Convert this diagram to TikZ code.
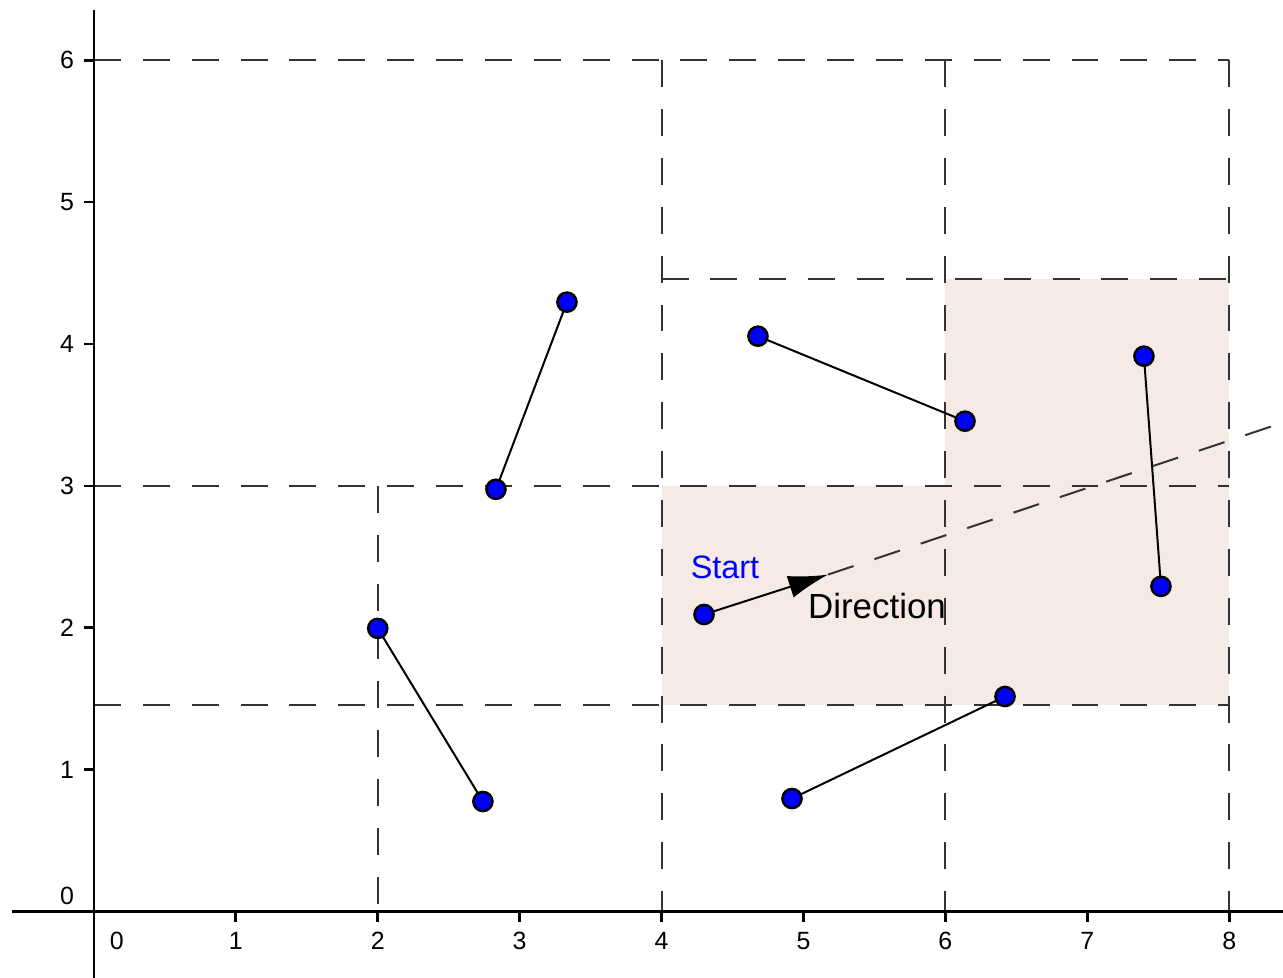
\documentclass[tikz,border=0pt]{standalone}
\usepackage{fontspec}
\setmainfont{Liberation Sans}
\usetikzlibrary{arrows.meta}
\definecolor{cellc}{HTML}{F5EAE6}
\definecolor{ptc}{HTML}{0000FF}
\tikzset{
  axis/.style={draw=black, line width=0.55pt},
  grid/.style={draw=black!80, line width=0.4pt, dash pattern=on 5.4pt off 4.4pt},
  cell/.style={fill=cellc},
  seg/.style={draw=black, line width=0.4pt},
  pt/.style={circle, fill=ptc, draw=black, line width=0.5pt, inner sep=0pt, minimum size=1.35mm},
  tick/.style={font=\fontsize{5}{6}\selectfont},
}

\begin{document}
\begin{tikzpicture}
\useasboundingbox (-0.662,-0.465) rectangle (8.379,6.424);
\fill[cell] (4,1.453) rectangle (6,3);
\fill[cell] (6,1.453) rectangle (8,4.457);
% cells
\draw[grid] (0,6) -- (8,6);
\draw[grid] (0,3) -- (8,3);
\draw[grid] (0,1.453) -- (8,1.453);
\draw[grid] (4,4.457) -- (8,4.457);
\draw[grid] (4,6) -- (4,0);
\draw[grid] (6,6) -- (6,0);
\draw[grid] (8,6) -- (8,0);
\draw[grid] (2,3) -- (2,0);
% axes
\draw[axis] (-0.578,0) -- (8.379,0);
\draw[axis] (0,-0.465) -- (0,6.354);
\foreach \i in {1,...,8} {
  \draw[axis] (\i,0) -- (\i,-0.07);
  \node[tick] (xl\i) at (\i,-0.205) {\i};
}
\foreach \i in {1,...,6} {
  \draw[axis] (0,\i) -- (-0.07,\i);
  \node[tick] (yl\i) at (-0.19,\i) {\i};
}
\node[tick] (xl0) at (0.162,-0.205) {0};
\node[tick] (yl0) at (-0.19,0.113) {0};
% segments
\coordinate (a1) at (2.0,1.996);   \coordinate (a2) at (2.741,0.776);
\coordinate (b1) at (2.833,2.976); \coordinate (b2) at (3.333,4.295);
\coordinate (c1) at (4.679,4.055); \coordinate (c2) at (6.138,3.456);
\coordinate (d1) at (7.399,3.914); \coordinate (d2) at (7.519,2.292);
\coordinate (e1) at (4.919,0.797); \coordinate (e2) at (6.420,1.516);
\draw[seg] (a1) -- (a2);
\draw[seg] (b1) -- (b2);
\draw[seg] (c1) -- (c2);
\draw[seg] (d1) -- (d2);
\draw[seg] (e1) -- (e2);
% ray
\coordinate (start) at (4.299,2.094);
\coordinate (tip) at (5.173,2.375);
\coordinate (rayend) at (8.6,3.52);
\draw[grid] (tip) -- (rayend);
\draw[seg, -{Latex[length=2.8mm,width=1.6mm]}] (start) -- (tip);
\foreach \p in {a1,a2,b1,b2,c1,c2,d1,d2,e1,e2,start}
  \node[pt] at (\p) {};
\node[text=ptc, font=\fontsize{6.5}{8}\selectfont] (startlbl) at (4.447,2.426) {Start};
\node[font=\fontsize{7}{8}\selectfont] (dirlbl) at (5.518,2.151) {Direction};
\end{tikzpicture}
\end{document}
